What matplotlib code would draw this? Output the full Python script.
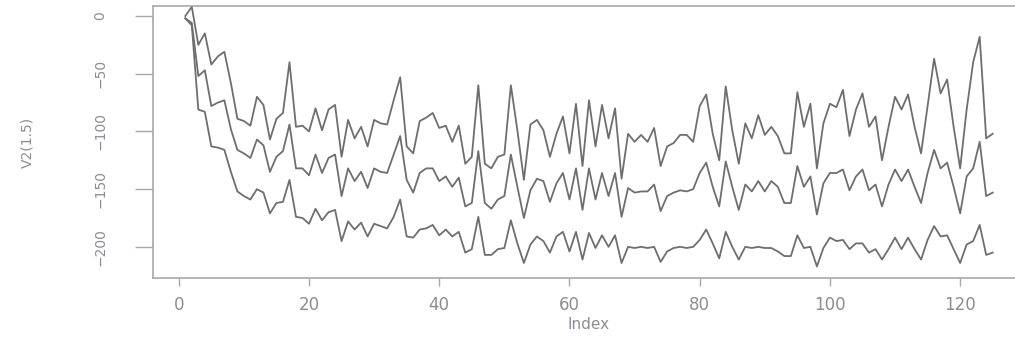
import numpy as np
import matplotlib
matplotlib.use("Agg")
import matplotlib.pyplot as plt

# three series, index 1..125
upper = [0, 8, -25, -15, -42, -35, -31, -58, -89, -91,
         -95, -70, -77, -107, -89, -84, -40, -96, -95, -100,
         -80, -99, -81, -77, -122, -90, -106, -96, -113, -90,
         -93, -94, -73, -53, -113, -119, -91, -88, -84, -97,
         -95, -109, -95, -128, -122, -60, -128, -132, -122, -120,
         -60, -99, -142, -94, -90, -99, -122, -102, -87, -119,
         -76, -130, -73, -113, -77, -106, -80, -141, -102, -109,
         -103, -109, -97, -130, -113, -110, -103, -103, -109, -78,
         -68, -102, -125, -61, -99, -128, -93, -106, -86, -103,
         -96, -104, -119, -119, -66, -96, -76, -132, -93, -76,
         -79, -64, -104, -81, -67, -96, -87, -125, -96, -70,
         -81, -68, -96, -119, -78, -37, -67, -55, -96, -132,
         -81, -40, -18, -106, -102]

middle = [-2, -6, -52, -47, -78, -75, -73, -98, -116, -119,
          -123, -107, -112, -135, -122, -117, -94, -132, -132, -138,
          -120, -136, -123, -120, -156, -132, -143, -135, -149, -132,
          -135, -136, -120, -104, -142, -153, -136, -132, -132, -143,
          -139, -148, -140, -165, -162, -117, -162, -167, -159, -156,
          -120, -148, -175, -151, -141, -143, -161, -145, -136, -159,
          -132, -168, -132, -159, -136, -156, -136, -174, -149, -153,
          -152, -152, -146, -169, -156, -153, -151, -152, -150, -136,
          -127, -148, -165, -126, -148, -168, -146, -152, -143, -152,
          -143, -148, -162, -162, -130, -148, -139, -172, -145, -136,
          -136, -133, -151, -139, -133, -151, -146, -165, -146, -133,
          -143, -133, -148, -162, -136, -116, -132, -127, -148, -171,
          -139, -132, -109, -156, -153]

lower = [-2, -8, -81, -83, -113, -114, -116, -135, -152, -156,
         -159, -150, -153, -171, -162, -161, -142, -174, -175, -180,
         -167, -177, -170, -168, -195, -178, -185, -179, -191, -180,
         -182, -184, -174, -159, -191, -192, -185, -184, -181, -190,
         -185, -191, -187, -205, -202, -174, -207, -207, -202, -201,
         -177, -197, -214, -198, -191, -195, -205, -191, -187, -204,
         -187, -211, -188, -201, -190, -200, -190, -214, -200, -201,
         -200, -201, -200, -213, -204, -201, -200, -201, -200, -194,
         -185, -197, -210, -187, -200, -211, -200, -201, -200, -201,
         -201, -204, -208, -208, -190, -201, -200, -217, -201, -192,
         -195, -194, -202, -197, -197, -205, -202, -211, -202, -192,
         -202, -192, -202, -211, -194, -182, -191, -190, -202, -214,
         -198, -195, -181, -207, -205]

x_ticks = [0, 20, 40, 60, 80, 100, 120]
y_ticks = [0, -50, -100, -150, -200]

idx = np.arange(1, len(middle) + 1)

fig = plt.figure(figsize=(10.15, 3.4), dpi=100)
ax = fig.add_axes([153 / 1015, 62 / 340, 872 / 1015, 272 / 340])

line_col = '#6e6e6e'
axis_col = '#a8a8a8'
text_col = '#8c8c96'

for s in (upper, middle, lower):
    ax.plot(idx, s, color=line_col, linewidth=1.3)

ax.set_xlim(-3.96, 129.96)
ax.set_ylim(-227, 8.7)

for side in ['left', 'bottom', 'top', 'right']:
    ax.spines[side].set_color(axis_col)
    ax.spines[side].set_linewidth(1.2)

ax.set_xticks(x_ticks)
ax.set_yticks(y_ticks)
ax.tick_params(axis='x', length=6, width=1, color=axis_col, pad=7,
               labelsize=12, labelcolor=text_col)
ax.tick_params(axis='y', length=13, width=1, color=axis_col, pad=20,
               labelsize=10, labelcolor=text_col, labelrotation=90)
for lab in ax.get_yticklabels():
    lab.set_va('center')

ax.set_xlabel('Index', fontsize=11, color=text_col, va='center')
ax.xaxis.set_label_coords(0.5, -0.172)
ax.set_ylabel('V2(1.5)', fontsize=10, color=text_col, va='center')
ax.yaxis.set_label_coords(-0.1445, 0.5)

fig.savefig('out.png', dpi=100, facecolor='white')
